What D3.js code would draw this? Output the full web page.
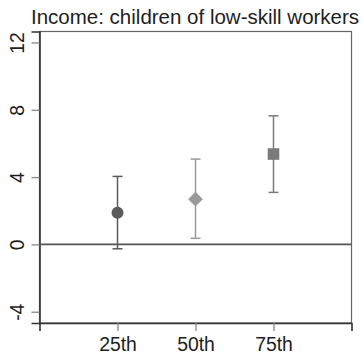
<!DOCTYPE html>
<html>
<head>
<meta charset="utf-8">
<script src="https://cdn.jsdelivr.net/npm/d3@7"></script>
<style>
  html, body { margin: 0; padding: 0; background: #fff; }
  svg { display: block; font-family: "Liberation Sans", Arial, Helvetica, sans-serif; }
</style>
</head>
<body>
<svg id="chart" width="364" height="354"></svg>
<script>
// Point estimates with 95% confidence intervals by parental income percentile
const categories = ["25th", "50th", "75th"];
const percentiles = [25, 50, 75];
const estimates = [1.88, 2.69, 5.37];
const ciLower = [-0.26, 0.36, 3.09];
const ciUpper = [4.04, 5.07, 7.64];
const markerShapes = ["circle", "diamond", "square"];
const markerColors = ["#5a5a5a", "#9a9a9a", "#7a7a7a"];
const yTicks = [-4, 0, 4, 8, 12];
const titleText = "Income: children of low-skill workers";

const svg = d3.select("#chart");
const plotLeft = 39.5, plotRight = 351.5, plotTop = 31.5, plotBottom = 323;

const x = d3.scaleLinear().domain([0, 100]).range([plotLeft, plotRight]);
const y = d3.scaleLinear().domain([-4.67, 12.65]).range([plotBottom, plotTop]);

// Title
svg.append("text")
  .attr("x", 31).attr("y", 23.5)
  .attr("font-size", 20.5).attr("fill", "#1e1e1e")
  .text(titleText);

// Plot frame
svg.append("rect")
  .attr("x", plotLeft).attr("y", plotTop)
  .attr("width", plotRight - plotLeft).attr("height", plotBottom - plotTop)
  .attr("fill", "none").attr("stroke", "#666").attr("stroke-width", 1.2);

// Y axis with rotated labels (plain hyphen for negatives)
const yAxis = d3.axisLeft(y).tickValues(yTicks).tickSize(8).tickFormat(d => String(d));
const gy = svg.append("g").attr("transform", `translate(${plotLeft},0)`).call(yAxis);
gy.select(".domain").attr("stroke", "#333").attr("stroke-width", 1.6);
gy.selectAll(".tick line").attr("stroke", "#888").attr("stroke-width", 1.3);
gy.selectAll(".tick text")
  .attr("font-size", 19.4).attr("fill", "#1e1e1e")
  .attr("text-anchor", "middle")
  .attr("x", 0).attr("y", 0).attr("dy", 0)
  .attr("transform", "translate(-15.5,0) rotate(-90)");

// X axis
const xAxis = d3.axisBottom(x).tickValues(percentiles).tickSize(8).tickPadding(6)
  .tickFormat((d, i) => categories[i]);
const gx = svg.append("g").attr("transform", `translate(0,${plotBottom})`).call(xAxis);
gx.select(".domain").attr("stroke", "#333").attr("stroke-width", 1.6);
gx.selectAll(".tick line").attr("stroke", "#888").attr("stroke-width", 1.3);
gx.selectAll(".tick text").attr("font-size", 19.4).attr("fill", "#1e1e1e").attr("dy", "0.74em");

// Zero reference line
svg.append("line")
  .attr("x1", plotLeft).attr("x2", plotRight)
  .attr("y1", y(0)).attr("y2", y(0))
  .attr("stroke", "#555").attr("stroke-width", 1.6);

// Confidence intervals
const capHalf = 5;
const g = svg.append("g");
percentiles.forEach((p, i) => {
  const cx = x(p), c = markerColors[i];
  g.append("line").attr("x1", cx).attr("x2", cx)
    .attr("y1", y(ciLower[i])).attr("y2", y(ciUpper[i]))
    .attr("stroke", c).attr("stroke-width", 1.5);
  [ciLower[i], ciUpper[i]].forEach(v => {
    g.append("line").attr("x1", cx - capHalf).attr("x2", cx + capHalf)
      .attr("y1", y(v)).attr("y2", y(v))
      .attr("stroke", c).attr("stroke-width", 1.5);
  });
});

// Point markers
const symbolMap = { circle: d3.symbolCircle, diamond: d3.symbolSquare, square: d3.symbolSquare };
const symbolSize = { circle: Math.PI * 6 * 6, diamond: 10.4 * 10.4, square: 11.6 * 11.6 };
percentiles.forEach((p, i) => {
  const shape = markerShapes[i];
  const rot = shape === "diamond" ? 45 : 0;
  g.append("path")
    .attr("d", d3.symbol().type(symbolMap[shape]).size(symbolSize[shape])())
    .attr("transform", `translate(${x(p)},${y(estimates[i])}) rotate(${rot})`)
    .attr("fill", markerColors[i]);
});
</script>
</body>
</html>
